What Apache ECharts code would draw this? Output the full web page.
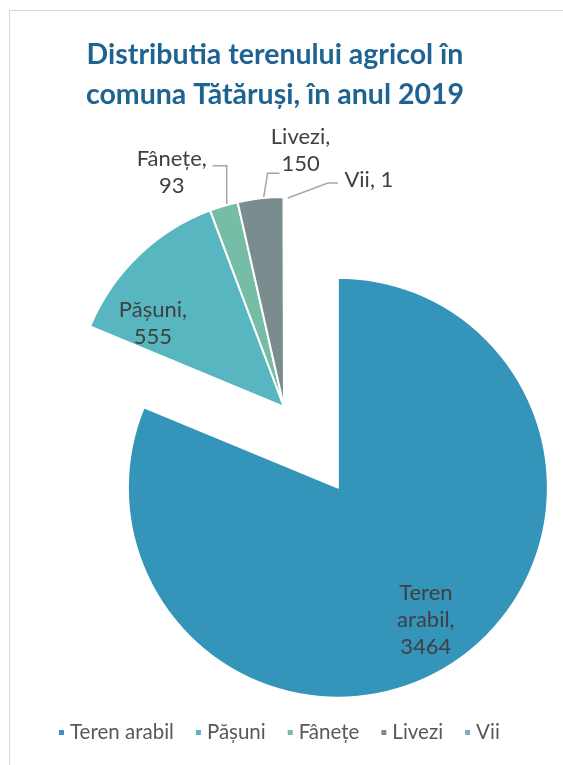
<!DOCTYPE html>
<html><head><meta charset="utf-8">
<script src="https://cdn.jsdelivr.net/npm/echarts@6/dist/echarts.min.js"></script>
<style>
html,body{margin:0;padding:0;background:#fff;}
#frame{position:absolute;left:9px;top:10px;width:700px;height:900px;border:1px solid #d9d9d9;}
#chart{position:absolute;left:0;top:0;width:563px;height:765px;}
</style></head>
<body>
<div id="frame"></div>
<div id="chart"></div>
<script>
// ---- data ----
const titleText = 'Distributia terenului agricol în\ncomuna Tătăruși, în anul 2019';
const categories = ['Teren arabil', 'Pășuni', 'Fânețe', 'Livezi', 'Vii'];
const values = [3464, 555, 93, 150, 1];
const colors = ['#3494BA', '#58B6C0', '#75BDA7', '#7A8C8E', '#84ACB6'];

// ---- layout ----
const pieCenter = [284, 407];
const pieRadius = 210;
const explode = 97;
const font = 'Lato, "Open Sans", sans-serif';
// per-label placement tweaks (relative offsets)
const insideShift = {0: [28, 42], 1: [-56, -6]};
const outsideLayout = {
  // label centre offset from slice edge point; leader points offsets from edge
  2: {c: [-52, -33], pts: [[3, -1], [3, -40], [-11, -40]]},
  3: {c: [40, -48], pts: [[3, 0], [7, -25], [19, -25]]},
  4: {c: [85, -17], pts: [[4, 1], [44, -14], [54, -14]]}
};

const total = values.reduce((a, b) => a + b, 0);
function midDir(i) {
  let s = 0;
  for (let k = 0; k < i; k++) s += values[k];
  const a = (s + values[i] / 2) / total * 2 * Math.PI;
  return [Math.sin(a), -Math.cos(a)];
}
function labelText(p) {
  const one = p.name + ', ' + p.value;
  if (one.length <= 7) return one;
  return p.name.split(' ').join('\n') + ',\n' + p.value;
}

const chart = echarts.init(document.getElementById('chart'));
chart.setOption({
  animation: false,
  color: colors,
  title: {
    text: titleText,
    left: 270, top: 30, textAlign: 'center',
    textStyle: {fontFamily: font, fontWeight: 'bold', fontSize: 28.5, color: '#1F6391', lineHeight: 40}
  },
  legend: {
    data: categories,
    bottom: 17, left: 52,
    icon: 'rect', itemWidth: 7, itemHeight: 7, itemGap: 20,
    textStyle: {fontFamily: font, fontSize: 20.5, color: '#595959'}
  },
  series: [{
    type: 'pie',
    center: pieCenter,
    radius: pieRadius,
    startAngle: 90,
    clockwise: true,
    avoidLabelOverlap: false,
    selectedMode: 'single',
    selectedOffset: explode,
    emphasis: {disabled: true},
    itemStyle: {borderColor: '#fff', borderWidth: 2},
    label: {
      fontFamily: font, fontSize: 22, color: '#404040', lineHeight: 27,
      formatter: labelText, align: 'center'
    },
    labelLine: {lineStyle: {color: '#A6A6A6', width: 1.5}},
    labelLayout: function (p) {
      const i = p.dataIndex;
      if (insideShift[i]) {
        return {dx: insideShift[i][0], dy: insideShift[i][1]};
      }
      const o = outsideLayout[i];
      const d = midDir(i);
      const ex = pieCenter[0] + pieRadius * d[0];
      const ey = pieCenter[1] + pieRadius * d[1];
      return {
        x: ex + o.c[0], y: ey + o.c[1], align: 'center', verticalAlign: 'middle',
        labelLinePoints: o.pts.map(q => [ex + q[0], ey + q[1]])
      };
    },
    data: categories.map((n, i) => {
      const item = {name: n, value: values[i]};
      if (i === 0) item.selected = true;
      if (i <= 1) { item.label = {position: 'inside'}; item.labelLine = {show: false}; }
      else { item.label = {position: 'outside'}; item.labelLine = {show: true}; }
      return item;
    })
  }]
});
</script>
</body></html>
